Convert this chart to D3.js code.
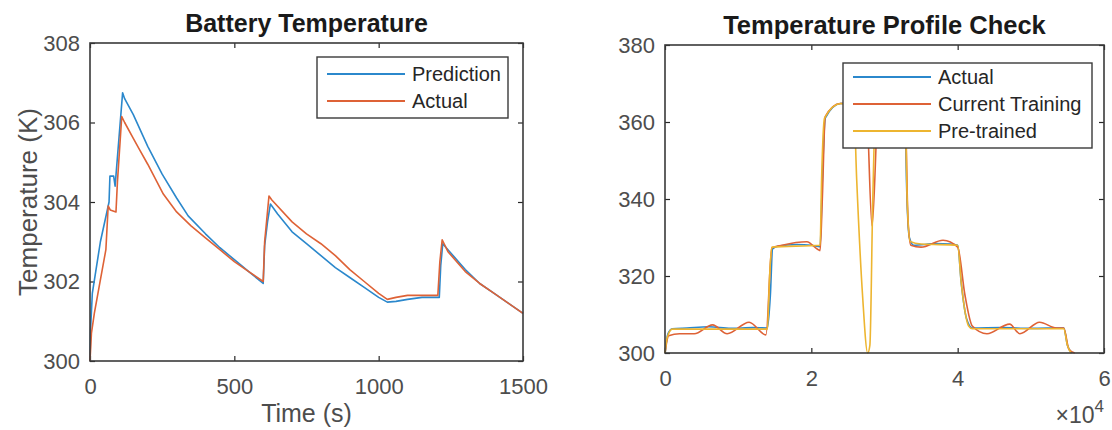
<!DOCTYPE html>
<html>
<head>
<meta charset="utf-8">
<script src="https://cdn.jsdelivr.net/npm/d3@7"></script>
<style>
  body { margin: 0; background: #fff; }
  svg { font-family: "Liberation Sans", Arial, sans-serif; }
  .tick text { fill: #4d4d4d; }
  .tick line { stroke: #262626; }
</style>
</head>
<body>
<script>
// Battery Temperature : time in s, temperature in K
var predTime = [0, 2, 8, 36, 66, 69, 82, 87, 113, 120, 150, 200, 250, 300, 340, 400, 450, 500, 550, 600,
                605, 615, 625, 650, 700, 750, 800, 850, 900, 950, 1000, 1030, 1060, 1100, 1150, 1210,
                1215, 1222, 1240, 1300, 1350, 1400, 1450, 1500];
var predTemp = [300, 300.8, 301.7, 303.0, 304.0, 304.65, 304.65, 304.4, 306.75, 306.6, 306.2, 305.4, 304.7, 304.1, 303.65, 303.2, 302.85, 302.55, 302.25, 301.95,
                302.9, 303.5, 303.95, 303.7, 303.25, 302.95, 302.65, 302.35, 302.1, 301.85, 301.6, 301.48, 301.5, 301.55, 301.6, 301.6,
                302.4, 302.95, 302.8, 302.3, 301.95, 301.7, 301.45, 301.2];

var actTime = [0, 5, 15, 30, 50, 55, 63, 70, 90, 95, 110, 120, 150, 173, 200, 254, 300, 350, 400, 450, 500, 550, 600,
               605, 620, 630, 700, 750, 800, 850, 900, 950, 1000, 1030, 1060, 1100, 1150, 1205,
               1212, 1220, 1240, 1300, 1350, 1400, 1450, 1500];
var actTemp = [300, 300.7, 301.2, 301.8, 302.6, 302.8, 303.9, 303.8, 303.75, 304.5, 306.15, 306.0, 305.6, 305.3, 304.95, 304.2, 303.75, 303.4, 303.1, 302.8, 302.5, 302.25, 302.0,
               303.0, 304.15, 304.05, 303.5, 303.2, 302.95, 302.65, 302.3, 302.0, 301.7, 301.55, 301.6, 301.65, 301.65, 301.65,
               302.5, 303.05, 302.75, 302.25, 301.95, 301.7, 301.45, 301.2];

var leftXTicks = [0, 500, 1000, 1500];
var leftYTicks = [300, 302, 304, 306, 308];
var leftNames = ["Prediction", "Actual"];

// Temperature Profile Check : time in 1e4 s, temperature in K
var refTime = [0, 0.04, 0.1, 0.3, 0.6, 0.9, 1.2, 1.40, 1.44, 1.47, 1.55, 1.8, 2.0, 2.12, 2.15, 2.19, 2.4, 3.0, 3.28,
               3.30, 3.34, 3.4, 3.7, 3.9, 4.0, 4.05, 4.12, 4.2, 4.6, 5.0, 5.45, 5.5, 5.56];
var refTemp = [300, 305, 306.3, 306.5, 306.8, 306.4, 306.6, 306.5, 315, 327, 327.8, 328.2, 328, 327.6, 345, 361, 364.8, 365, 364.5,
               345, 330, 328, 328.4, 328.3, 328, 318, 309, 306.5, 306.6, 306.4, 306.5, 302, 300];

var curTime = [0, 0.05, 0.2, 0.4, 0.65, 0.85, 1.15, 1.38, 1.46, 1.6, 1.94, 2.08, 2.12, 2.15, 2.19, 2.39, 2.75, 2.83, 2.92,
               3.28, 3.32, 3.36, 3.5, 3.8, 4.0, 4.1, 4.2, 4.4, 4.71, 4.85, 5.12, 5.35, 5.45, 5.52, 5.6];
var curTemp = [300, 304.5, 305, 305, 307.3, 305, 308, 304.7, 327.3, 328, 328.9, 327, 326.6, 340, 361.4, 364.8, 365, 333, 365,
               365, 335, 328, 327.5, 329.3, 327.5, 315, 307, 305, 307.5, 305, 308, 306.5, 306.5, 301, 300];

var preTime = [0, 0.03, 0.1, 1.40, 1.43, 1.46, 2.12, 2.14, 2.18, 2.4, 2.58, 2.62, 2.70, 2.77, 2.80, 2.84, 2.88,
               3.28, 3.31, 3.35, 3.5, 4.0, 4.05, 4.15, 4.2, 5.45, 5.5, 5.55];
var preTemp = [300, 304, 306.2, 306.2, 320, 327.5, 328, 345, 361, 364.8, 364, 345, 315, 300, 302, 340, 364,
               365, 340, 329, 328.3, 328, 318, 307, 306.3, 306.3, 302, 300];

var rightXTicks = [0, 2, 4, 6];
var rightYTicks = [300, 320, 340, 360, 380];
var rightNames = ["Actual", "Current Training", "Pre-trained"];

var blue = "#2b88cc", orange = "#de6236", yellow = "#edb530";

var svg = d3.select("body").append("svg")
    .attr("width", 1112)
    .attr("height", 430);

function zip(xs, ys) {
	return xs.map(function(d, i) { return [d, ys[i]]; });
}

/**
 * draws one MATLAB style axes box, ticks inside on all four sides
 */
function makeAxes(box, xDomain, yDomain, xTicks, yTicks) {
	var x = d3.scaleLinear().domain(xDomain).range([box.x0, box.x1]);
	var y = d3.scaleLinear().domain(yDomain).range([box.y1, box.y0]);
	var g = svg.append("g");

	g.append("g")
	    .attr("transform", "translate(0," + box.y1 + ")")
	    .call(d3.axisBottom(x).tickValues(xTicks).tickSize(-5).tickPadding(17).tickFormat(d3.format("d")))
	    .call(styleAxis);
	g.append("g")
	    .attr("transform", "translate(0," + box.y0 + ")")
	    .call(d3.axisTop(x).tickValues(xTicks).tickSize(-5).tickFormat(""))
	    .call(styleAxis);
	g.append("g")
	    .attr("transform", "translate(" + box.x0 + ",0)")
	    .call(d3.axisLeft(y).tickValues(yTicks).tickSize(-5).tickPadding(10).tickFormat(d3.format("d")))
	    .call(styleAxis);
	g.append("g")
	    .attr("transform", "translate(" + box.x1 + ",0)")
	    .call(d3.axisRight(y).tickValues(yTicks).tickSize(-5).tickFormat(""))
	    .call(styleAxis);

	var plot = g.append("g");

	g.append("rect")
	    .attr("x", box.x0).attr("y", box.y0)
	    .attr("width", box.x1 - box.x0).attr("height", box.y1 - box.y0)
	    .attr("fill", "none").attr("stroke", "#3a3a3a").attr("stroke-width", 1.6);

	return {g: g, plot: plot, x: x, y: y};
}

function styleAxis(sel) {
	sel.select(".domain").remove();
	sel.selectAll(".tick line").attr("stroke-width", 1.2);
	sel.selectAll(".tick text").style("font-size", "22px");
}

function drawLine(ax, xs, ys, color, curve) {
	var line = d3.line()
	    .x(function(d) { return ax.x(d[0]); })
	    .y(function(d) { return ax.y(d[1]); })
	    .curve(curve || d3.curveLinear);
	ax.plot.append("path")
	    .datum(zip(xs, ys))
	    .attr("fill", "none")
	    .attr("stroke", color)
	    .attr("stroke-width", 1.6)
	    .attr("stroke-linejoin", "round")
	    .attr("d", line);
}

function drawLegend(ax, box, names, colors) {
	var lg = ax.g.append("g");
	lg.append("rect")
	    .attr("x", box.x).attr("y", box.y)
	    .attr("width", box.w).attr("height", box.h)
	    .attr("fill", "#fff").attr("stroke", "#3a3a3a").attr("stroke-width", 1.4);
	names.forEach(function(n, i) {
		var yy = box.y + box.first + i * box.step;
		lg.append("line")
		    .attr("x1", box.x + 10).attr("x2", box.x + 88)
		    .attr("y1", yy).attr("y2", yy)
		    .attr("stroke", colors[i]).attr("stroke-width", 2);
		lg.append("text")
		    .attr("x", box.x + 95).attr("y", yy)
		    .attr("dy", "0.35em")
		    .style("font-size", "20px")
		    .attr("fill", "#262626")
		    .text(n);
	});
}

// left chart
var boxL = {x0: 90, x1: 523, y0: 43, y1: 361};
var axL = makeAxes(boxL, [0, 1500], [300, 308], leftXTicks, leftYTicks);
drawLine(axL, predTime, predTemp, blue);
drawLine(axL, actTime, actTemp, orange);
drawLegend(axL, {x: 317, y: 57, w: 191, h: 61, first: 17, step: 27}, leftNames, [blue, orange]);

svg.append("text")
    .attr("x", (boxL.x0 + boxL.x1) / 2).attr("y", 32)
    .attr("text-anchor", "middle")
    .style("font-size", "25px").style("font-weight", "bold")
    .attr("fill", "#1a1a1a")
    .text("Battery Temperature");
svg.append("text")
    .attr("x", (boxL.x0 + boxL.x1) / 2).attr("y", 422)
    .attr("text-anchor", "middle")
    .style("font-size", "25px")
    .attr("fill", "#4d4d4d")
    .text("Time (s)");
svg.append("text")
    .attr("transform", "translate(37," + (boxL.y0 + boxL.y1) / 2 + ") rotate(-90)")
    .attr("text-anchor", "middle")
    .style("font-size", "26px")
    .attr("fill", "#4d4d4d")
    .text("Temperature (K)");

// right chart
var boxR = {x0: 665, x1: 1104, y0: 45, y1: 353};
var axR = makeAxes(boxR, [0, 6], [300, 380], rightXTicks, rightYTicks);
drawLine(axR, refTime, refTemp, blue, d3.curveMonotoneX);
drawLine(axR, curTime, curTemp, orange, d3.curveMonotoneX);
drawLine(axR, preTime, preTemp, yellow, d3.curveMonotoneX);
drawLegend(axR, {x: 843, y: 63, w: 249, h: 85, first: 14, step: 27}, rightNames, [blue, orange, yellow]);

svg.append("text")
    .attr("x", (boxR.x0 + boxR.x1) / 2).attr("y", 34)
    .attr("text-anchor", "middle")
    .style("font-size", "25.5px").style("font-weight", "bold")
    .attr("fill", "#1a1a1a")
    .text("Temperature Profile Check");

// exponent label under the x axis
var expo = svg.append("text")
    .attr("x", 1104).attr("y", 423)
    .attr("text-anchor", "end")
    .style("font-size", "23px")
    .attr("fill", "#4d4d4d");
expo.append("tspan").text("×10");
expo.append("tspan").attr("dy", -11).style("font-size", "17px").text("4");
</script>
</body>
</html>
